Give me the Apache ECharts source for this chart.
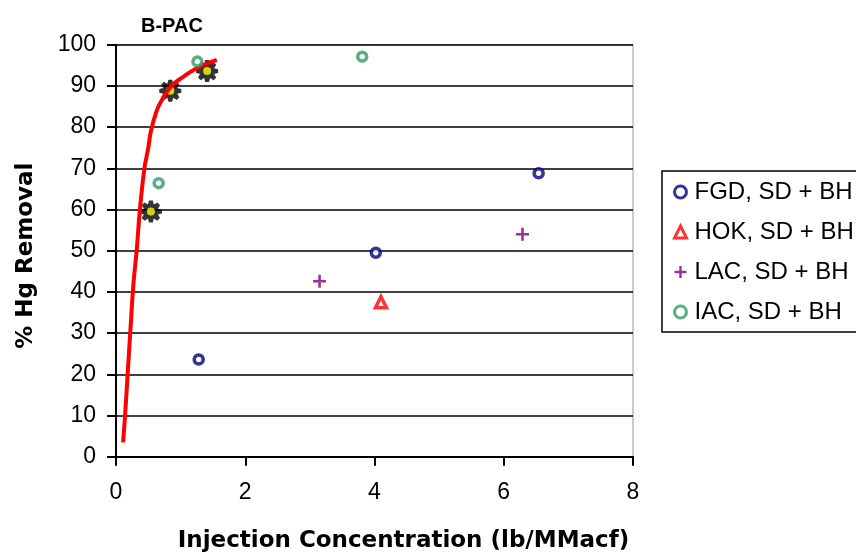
<!DOCTYPE html>
<html>
<head>
<meta charset="utf-8">
<script src="https://cdn.jsdelivr.net/npm/echarts@6/dist/echarts.min.js"></script>
<style>
  html, body { margin: 0; padding: 0; background: #fff; }
  #chart { width: 856px; height: 556px; }
</style>
</head>
<body>
<div id="chart"></div>
<script>
// Fitted B-PAC removal curve (lb/MMacf, % removal)
const fitX = [0.11, 0.14, 0.18, 0.22, 0.27, 0.32, 0.37, 0.44, 0.50, 0.54, 0.63, 0.71, 0.86, 1.04, 1.25, 1.56];
const fitY = [3.5, 10, 20, 30, 42, 50, 60, 70, 75, 79, 84, 86.6, 90, 92.2, 94.3, 96.3];

// Measured B-PAC points
const bpacX = [0.54, 0.84, 1.41];
const bpacY = [59.5, 88.8, 93.6];

// Other sorbents, spray dryer + baghouse
const fgdX = [1.28, 4.02, 6.54];
const fgdY = [23.6, 49.5, 68.8];
const hokX = [4.10];
const hokY = [37.5];
const lacX = [3.15, 6.29];
const lacY = [42.6, 54.0];
const iacX = [0.66, 1.26, 3.81];
const iacY = [66.4, 95.9, 97.1];

const xTicks = { min: 0, max: 8, interval: 2 };
const yTicks = { min: 0, max: 100, interval: 10 };

const FONT = '"Liberation Sans", Arial, sans-serif';
const BOLD_FONT = '"DejaVu Sans", "Liberation Sans", Arial, sans-serif';

function pairs(xs, ys) { return xs.map((x, i) => [x, ys[i]]); }

// Eight-spoked gear outline used for the B-PAC markers
function gearPath(spokes, rOut, rIn) {
  const pts = [];
  const c = rOut;
  const step = Math.PI * 2 / spokes;
  for (let k = 0; k < spokes; k++) {
    const a = k * step;
    const w = step * 0.22;
    pts.push([a - step / 2, rIn], [a - w, rOut], [a + w, rOut]);
  }
  const d = pts.map((p, i) => {
    const x = (c + p[1] * Math.cos(p[0])).toFixed(2);
    const y = (c + p[1] * Math.sin(p[0])).toFixed(2);
    return (i === 0 ? 'M' : 'L') + x + ',' + y;
  }).join('') + 'Z';
  return 'path://' + d;
}

const plusPath = 'path://M4,0H6V4H10V6H6V10H4V6H0V4H4Z';

const chart = echarts.init(document.getElementById('chart'), null, { renderer: 'canvas' });

const axisLineStyle = { color: '#000', width: 2 };

chart.setOption({
  backgroundColor: '#fff',
  animation: false,
  textStyle: { fontFamily: FONT },
  title: {
    text: 'B-PAC',
    left: 136,
    top: 11,
    textStyle: { fontFamily: FONT, fontSize: 20, fontWeight: 'bold', color: '#000' }
  },
  legend: {
    data: ['FGD, SD + BH', 'HOK, SD + BH', 'LAC, SD + BH', 'IAC, SD + BH'],
    orient: 'vertical',
    left: 662,
    top: 171,
    padding: [9, 40, 8, 11],
    itemWidth: 12,
    itemHeight: 12,
    itemGap: 16,
    borderColor: '#000',
    borderWidth: 1.5,
    backgroundColor: '#fff',
    itemStyle: { borderWidth: 3 },
    textStyle: { fontFamily: FONT, fontSize: 24, color: '#000', padding: [0, 0, 0, 3] }
  },
  grid: {
    left: 116,
    right: 223,
    top: 44.7,
    bottom: 99.3,
    show: true,
    borderColor: '#999',
    borderWidth: 1,
    backgroundColor: 'transparent',
    outerBoundsMode: 'none',
    containLabel: false
  },
  xAxis: {
    type: 'value',
    min: xTicks.min,
    max: xTicks.max,
    interval: xTicks.interval,
    name: 'Injection Concentration (lb/MMacf)',
    nameLocation: 'middle',
    nameGap: 73,
    nameTextStyle: { fontFamily: BOLD_FONT, fontSize: 23, fontWeight: 'bold', color: '#000', padding: [0, 0, 0, 58] },
    axisLine: { show: true, onZero: false, lineStyle: axisLineStyle },
    axisTick: { show: true, inside: false, length: 9, lineStyle: axisLineStyle },
    axisLabel: { fontFamily: FONT, fontSize: 23, color: '#000', margin: 24 },
    splitLine: { show: false }
  },
  yAxis: {
    type: 'value',
    min: yTicks.min,
    max: yTicks.max,
    interval: yTicks.interval,
    name: '% Hg Removal',
    nameLocation: 'middle',
    nameGap: 78,
    nameRotate: 90,
    nameTextStyle: { fontFamily: BOLD_FONT, fontSize: 23, fontWeight: 'bold', color: '#000', padding: [0, 10, 0, 0] },
    axisLine: { show: true, onZero: false, lineStyle: axisLineStyle },
    axisTick: { show: true, inside: false, length: 9, lineStyle: axisLineStyle },
    axisLabel: { fontFamily: FONT, fontSize: 23, color: '#000', margin: 20 },
    splitLine: { show: true, lineStyle: { color: '#000', width: 1.5 } }
  },
  series: [
    {
      name: 'B-PAC',
      type: 'scatter',
      data: pairs(bpacX, bpacY),
      symbol: gearPath(8, 10, 6.8),
      symbolSize: 22,
      itemStyle: { color: '#000' },
      z: 3
    },
    {
      name: 'B-PAC centre',
      type: 'scatter',
      data: pairs(bpacX, bpacY),
      symbol: 'circle',
      symbolSize: 8,
      itemStyle: { color: '#ffff00' },
      z: 4
    },
    {
      name: 'B-PAC fit',
      type: 'line',
      data: pairs(fitX, fitY),
      smooth: 0.4,
      showSymbol: false,
      lineStyle: { color: '#ff0000', width: 4 },
      z: 5
    },
    {
      name: 'FGD, SD + BH',
      type: 'scatter',
      data: pairs(fgdX, fgdY),
      symbol: 'circle',
      symbolSize: 9,
      itemStyle: { color: '#fff', borderColor: '#000080', borderWidth: 3.5 },
      z: 6
    },
    {
      name: 'HOK, SD + BH',
      type: 'scatter',
      data: pairs(hokX, hokY),
      symbol: 'triangle',
      symbolSize: 11,
      itemStyle: { color: '#fff', borderColor: '#ff0000', borderWidth: 3.5 },
      z: 6
    },
    {
      name: 'LAC, SD + BH',
      type: 'scatter',
      data: pairs(lacX, lacY),
      symbol: plusPath,
      symbolSize: 13,
      itemStyle: { color: '#800080' },
      z: 6
    },
    {
      name: 'IAC, SD + BH',
      type: 'scatter',
      data: pairs(iacX, iacY),
      symbol: 'circle',
      symbolSize: 9,
      itemStyle: { color: '#fff', borderColor: '#339966', borderWidth: 3.5 },
      z: 6
    }
  ]
});
</script>
</body>
</html>
